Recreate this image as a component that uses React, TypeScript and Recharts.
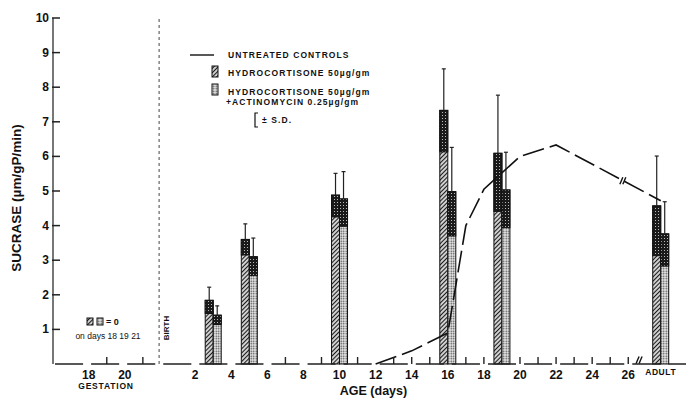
import React from 'react';
import {
  ComposedChart,
  Bar,
  Line,
  XAxis,
  YAxis,
  ReferenceLine,
  ReferenceDot,
} from 'recharts';

const FONT = '"Liberation Sans", Arial, sans-serif';

// treated groups: age in days after birth (adult drawn past the axis break)
const barAges = [3, 5, 10, 16, 19, 27.8];
const hydrocortisone = [1.84, 3.6, 4.88, 7.33, 6.09, 4.57];
const hydrocortisoneSd = [0.38, 0.45, 0.63, 1.2, 1.68, 1.44];
const actinomycin = [1.41, 3.1, 4.77, 4.98, 5.03, 3.76];
const actinomycinSd = [0.27, 0.54, 0.79, 1.28, 1.09, 0.93];

// untreated controls
const lineAges = [12, 14, 16, 17, 18, 20, 22, 27.8];
const controls = [0, 0.38, 0.9, 4.0, 5.05, 6.0, 6.33, 4.72];

// x axis: gestation days are shifted so that birth sits at 0
const labelValues = [-3.9, -1.9, 2, 4, 6, 8, 10, 12, 14, 16, 18, 20, 22, 24, 26, 27.8];
const labelTexts = ['18', '20', '2', '4', '6', '8', '10', '12', '14', '16', '18', '20', '22', '24', '26', 'ADULT'];
const markValues = [-2.9, -0.9, 7, 9, 11, 13, 14, 15, 17, 18, 20, 21, 22, 23, 24, 25, 26];
const yTicks = [1, 2, 3, 4, 5, 6, 7, 8, 9, 10];

const X_MIN = -5.88;
const X_MAX = 29.2;

const allAges = Array.from(new Set([...barAges, ...lineAges])).sort((a, b) => a - b);
const data = allAges.map((age) => {
  const i = barAges.indexOf(age);
  const j = lineAges.indexOf(age);
  return {
    age,
    hydro: i >= 0 ? hydrocortisone[i] : null,
    hydroSd: i >= 0 ? hydrocortisoneSd[i] : null,
    actino: i >= 0 ? actinomycin[i] : null,
    actinoSd: i >= 0 ? actinomycinSd[i] : null,
    control: j >= 0 ? controls[j] : null,
  };
});
const markData = markValues.map((age) => ({ age, mark: 0 }));

const makeBarShape = (key: string, sdKey: string, fillId: string) => (props: any) => {
  const { x, y, width, height, payload } = props;
  const v = payload[key];
  if (v == null || !height || height <= 0) return <g />;
  const k = height / v;
  const sdPx = payload[sdKey] * k;
  const cx = x + width / 2;
  return (
    <g>
      <rect x={x} y={y} width={width} height={height} fill={`url(#${fillId})`} stroke="#111" strokeWidth={1} />
      <rect x={x} y={y} width={width} height={Math.min(sdPx, height)} fill="url(#capGrid)" stroke="#111" strokeWidth={1} />
      <line x1={cx} x2={cx} y1={y} y2={y - sdPx} stroke="#222" strokeWidth={1.2} />
      <line x1={cx - 2} x2={cx + 2} y1={y - sdPx} y2={y - sdPx} stroke="#222" strokeWidth={1.2} />
    </g>
  );
};

const YTick = (props: any) => {
  const { x, y, payload } = props;
  return (
    <g>
      <path d={`M${x - 1},${y}h8`} stroke="#222" strokeWidth={1.5} fill="none" />
      <text x={x - 4} y={y + 4} textAnchor="end" fontSize={12} fontWeight="bold" fontFamily={FONT} fill="#111">
        {payload.value}
      </text>
    </g>
  );
};

const XTick = (props: any) => {
  const { x, y, payload } = props;
  const li = labelValues.findIndex((v) => Math.abs(v - payload.value) < 0.01);
  if (li < 0) return <g />;
  const text = labelTexts[li];
  const adult = text === 'ADULT';
  return (
    <text
      x={x}
      y={adult ? y + 11 : y + 15}
      textAnchor="middle"
      fontSize={adult ? 8.5 : 12}
      fontWeight="bold"
      fontFamily={FONT}
      letterSpacing={adult ? 0.6 : 0}
      fill="#111"
    >
      {text}
    </text>
  );
};

// upward tick mark on the baseline at each marked day
const MarkDot = (props: any) => {
  const { cx, cy } = props;
  if (cx == null || cy == null) return <g />;
  return <path d={`M${cx},${cy}v-7`} stroke="#222" strokeWidth={1.4} fill="none" />;
};

const Slashes = (props: any) => {
  const { cx, cy } = props;
  return (
    <g stroke="#111" strokeWidth={1.4}>
      <line x1={cx - 3} y1={cy + 3} x2={cx} y2={cy - 4} />
      <line x1={cx} y1={cy + 3} x2={cx + 3} y2={cy - 4} />
    </g>
  );
};

const legendText = { fontSize: 8.5, fontWeight: 'bold' as const, fontFamily: FONT, fill: '#111', letterSpacing: 1.1 };

export default function App() {
  return (
    <div style={{ position: 'absolute', left: 0, top: 0, background: '#fff' }}>
      <ComposedChart
        width={686}
        height={399}
        data={data}
        margin={{ top: 18, right: 0, bottom: 0, left: 0 }}
        barGap={0}
      >
        <defs>
          <pattern id="hatch" patternUnits="userSpaceOnUse" width={3} height={3} patternTransform="rotate(45)">
            <rect width={3} height={3} fill="#cfcfcf" />
            <line x1={0} y1={0} x2={0} y2={3} stroke="#111" strokeWidth={1.9} />
          </pattern>
          <pattern id="dots" patternUnits="userSpaceOnUse" width={2.5} height={2.5}>
            <rect width={2.5} height={2.5} fill="#ececec" />
            <circle cx={1.25} cy={1.25} r={0.8} fill="#444" />
          </pattern>
          <pattern id="capGrid" patternUnits="userSpaceOnUse" width={3} height={3}>
            <rect width={3} height={3} fill="#1a1a1a" />
            <rect x={1} y={1} width={1} height={1} fill="#bbb" />
          </pattern>
        </defs>
        <XAxis
          dataKey="age"
          type="number"
          domain={[X_MIN, X_MAX]}
          ticks={labelValues}
          interval={0}
          tick={<XTick />}
          tickLine={false}
          tickSize={0}
          tickMargin={0}
          height={35}
          axisLine={{ stroke: '#222', strokeWidth: 1.5, strokeDasharray: '28.08 8', strokeDashoffset: -2 }}
          label={{ value: 'AGE (days)', position: 'insideBottom', offset: 4, dx: 4, fontSize: 12.5, fontWeight: 'bold', fontFamily: FONT, fill: '#111' }}
        />
        <YAxis
          type="number"
          domain={[0, 10]}
          ticks={yTicks}
          interval={0}
          width={53}
          tick={<YTick />}
          tickLine={false}
          tickSize={0}
          tickMargin={0}
          axisLine={{ stroke: '#555', strokeWidth: 1.6 }}
        />
        <ReferenceLine x={0} stroke="#444" strokeWidth={1} strokeDasharray="3 3" />
        <Bar dataKey="hydro" barSize={8} isAnimationActive={false} shape={makeBarShape('hydro', 'hydroSd', 'hatch')} />
        <Bar dataKey="actino" barSize={8} isAnimationActive={false} shape={makeBarShape('actino', 'actinoSd', 'dots')} />
        <Line
          data={markData}
          dataKey="mark"
          stroke="none"
          dot={<MarkDot />}
          activeDot={false}
          legendType="none"
          isAnimationActive={false}
        />
        <Line
          type="linear"
          dataKey="control"
          stroke="#111"
          strokeWidth={1.6}
          strokeDasharray="22 6"
          dot={false}
          connectNulls
          isAnimationActive={false}
        />
        <ReferenceDot x={25.7} y={5.28} r={0} shape={<Slashes />} ifOverflow="visible" />
        <ReferenceDot x={26.6} y={0.1} r={0} shape={<Slashes />} ifOverflow="visible" />

        {/* y axis title */}
        <text transform="translate(21,198) rotate(-90)" textAnchor="middle" fontSize={13.5} fontWeight="bold" fontFamily={FONT} fill="#111">
          SUCRASE (µm/gP/min)
        </text>

        {/* gestation / birth notes */}
        <text x={106} y={389} textAnchor="middle" fontSize={8.5} fontWeight="bold" fontFamily={FONT} letterSpacing={0.8} fill="#111">
          GESTATION
        </text>
        <text transform="translate(169,328) rotate(-90)" textAnchor="middle" fontSize={8} fontWeight="bold" fontFamily={FONT} fill="#111">
          BIRTH
        </text>
        <rect x={87} y={318} width={6} height={7} fill="url(#hatch)" stroke="#111" strokeWidth={1} />
        <rect x={97} y={318} width={6} height={7} fill="url(#dots)" stroke="#111" strokeWidth={1} />
        <text x={106} y={325} fontSize={9} fontWeight="bold" fontFamily={FONT} fill="#111">= 0</text>
        <text x={108} y={339} textAnchor="middle" fontSize={8.5} fontFamily={FONT} fill="#111">on days 18 19 21</text>

        {/* legend */}
        <line x1={190} x2={214} y1={55} y2={55} stroke="#111" strokeWidth={1.4} />
        <text x={228} y={58} {...legendText}>UNTREATED CONTROLS</text>
        <rect x={212} y={66} width={6} height={11} fill="url(#hatch)" stroke="#111" strokeWidth={1} />
        <text x={228} y={76} {...legendText}>HYDROCORTISONE 50µg/gm</text>
        <rect x={212} y={84} width={6} height={11} fill="url(#dots)" stroke="#111" strokeWidth={1} />
        <text x={228} y={95} {...legendText}>HYDROCORTISONE 50µg/gm</text>
        <text x={226} y={105} {...legendText}>+ACTINOMYCIN 0.25µg/gm</text>
        <path d="M258,113 L255,113 L255,127 L258,127" fill="none" stroke="#111" strokeWidth={1.2} />
        <text x={262} y={123} {...legendText}>± S.D.</text>
      </ComposedChart>
    </div>
  );
}
